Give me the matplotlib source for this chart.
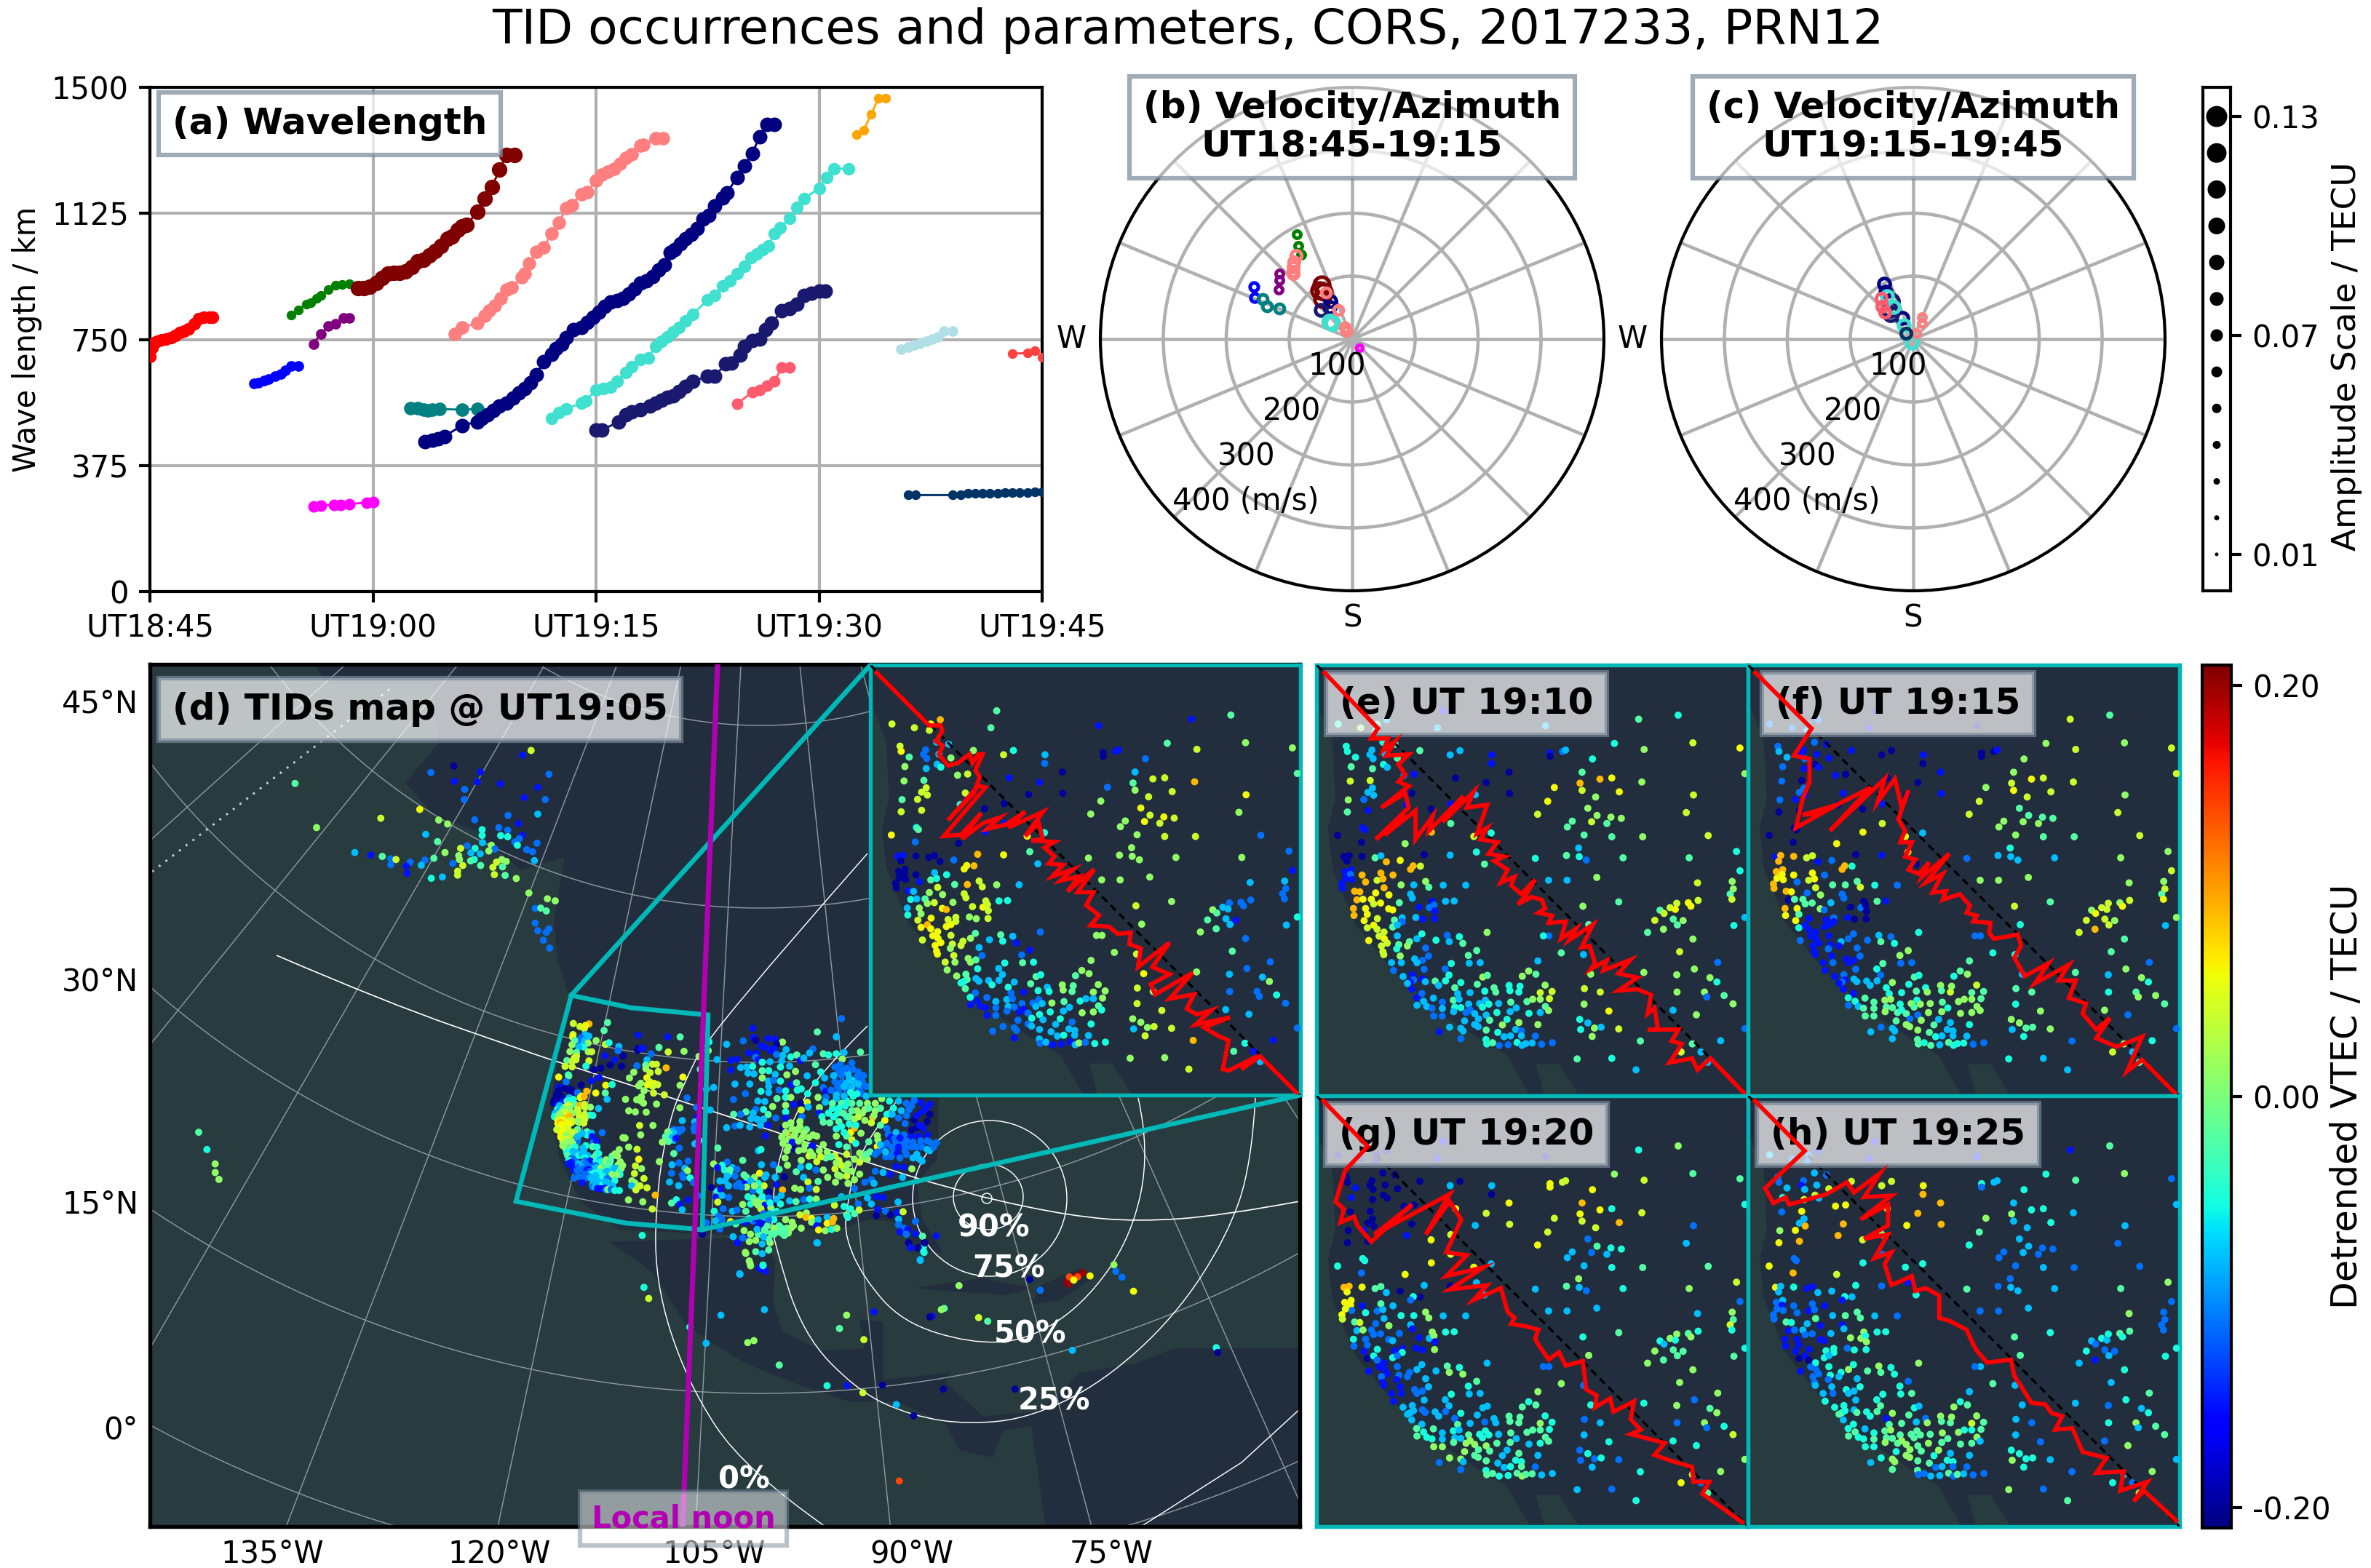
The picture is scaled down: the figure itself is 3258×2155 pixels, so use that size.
import numpy as np
import matplotlib
matplotlib.use("Agg")
import matplotlib.pyplot as plt
from matplotlib.patches import Polygon, Ellipse, PathPatch
from matplotlib.path import Path
from matplotlib.cm import ScalarMappable
from matplotlib.colors import Normalize

W, H = 3258, 2155
TEAL = '#00b8b8'
LAND = '#222e3d'
SEA = '#283b3f'
GRID = '#b0b0b0'

# ---------- (a) wavelength tracks: minutes after UT18:45, km, colour, marker px
wl_red = ([0,.15,.3,.5,.8,1.1,1.4,1.7,2,2.3,2.6,3,3.3,3.6,4,4.2],[700,725,740,745,748,752,756,762,770,775,782,796,812,816,816,816])
wl_blue = ([7,7.3,7.7,8,8.4,8.8,9.1,9.5,10],[618,622,628,632,640,648,658,672,672])
wl_green = ([9.5,10,10.5,10.8,11.2,11.5,12,12.5,12.9,13.4],[823,838,856,860,872,882,898,911,914,916])
wl_purple = ([11,11.5,12,12.5,13,13.4],[737,767,790,796,814,814])
wl_magenta = ([11,11.5,12.4,12.8,13.4,14.6,15],[254,256,258,258,260,265,266])
wl_maroon = ([14,14.4,14.8,15.2,15.6,16,16.4,16.8,17.2,17.6,18,18.4,18.8,19.2,19.6,20,20.3,20.7,21,21.3,22,22.5,23,23.5,24,24.5],
              [903,903,908,918,932,945,948,948,953,966,982,986,1000,1012,1028,1050,1056,1075,1087,1090,1129,1168,1203,1255,1299,1299])
wl_salmon = ([20.5,21,22,22.5,22.8,23.2,23.6,24,24.3,25,25.2,25.5,26,26.5,27,27.5,28,28.4,29,29.4,30,30.4,30.8,31.2,31.6,32,32.4,33,33.2,34,34.5],
              [767,786,798,820,835,850,872,898,905,935,945,977,1010,1024,1066,1098,1140,1150,1182,1188,1224,1240,1250,1258,1272,1289,1300,1326,1330,1348,1348])
wl_teal = ([17.5,18,18.4,18.7,19,19.5,21,22],[546,545,542,538,541,543,541,543])
wl_navy = ([18.5,19,19.4,19.8,21,22,22.3,22.7,23.1,23.5,24,24.4,24.8,25.2,25.6,26,26.5,27,27.3,27.7,28,28.5,29,29.4,29.8,30.2,30.6,31,31.4,31.8,32.2,32.6,33,33.4,33.8,34.2,34.6,35,35.3,35.7,36,36.4,36.8,37.2,37.6,38,38.5,38.8,39.5,40,40.5,41,41.5,42],
             [446,450,455,462,494,505,515,525,538,551,560,575,590,604,622,646,685,705,722,735,755,780,785,800,815,832,848,862,866,872,885,900,918,925,938,956,972,1008,1018,1035,1050,1062,1080,1108,1120,1147,1172,1187,1232,1266,1303,1353,1389,1389])
wl_turq = ([27,27.5,28,29,29.3,30,30.5,31,31.4,32,32.4,33,33.5,34,34.4,34.8,35.2,35.6,36,36.5,37.5,38,38.5,39,39.5,40,40.4,40.8,41.2,41.6,42,42.4,43,43.5,44,45,45.5,46,47],
             [515,532,544,560,568,599,604,609,625,651,668,690,695,730,745,758,772,786,805,825,867,882,909,925,945,968,993,1005,1018,1029,1066,1082,1111,1143,1169,1200,1232,1258,1258])
wl_midnight = ([30,30.4,31.5,32,32.4,33,33.6,34,34.4,34.8,35.2,35.6,36,36.5,37.5,38,38.7,39.1,39.7,40,40.5,41,41.4,41.8,42.5,43,43.5,44,44.5,45,45.4],
               [481,481,504,525,535,541,551,560,570,578,583,595,610,625,641,641,677,680,704,730,746,752,780,798,835,842,856,882,888,893,893])
wl_crimson = ([39.5,40.5,41,41.5,42,42.5,43],[559,593,600,612,625,667,667])
wl_orange = ([47.5,48,48.5,49,49.5],[1360,1373,1420,1468,1468])
wl_pale = ([50.5,51,51.4,51.8,52.2,52.6,53,53.4,54],[720,728,733,738,745,752,758,774,774])
wl_red2 = ([58,59,59.5,60],[708,709,716,698])
wl_dark = ([51,51.5,54,54.5,55,55.5,56,56.5,57,57.5,58,58.5,59,59.5,60],[287,287,287,287,292,292,293,293,293,294,294,295,295,296,296])
WL_SERIES = [(wl_red,'red',13),(wl_blue,'blue',11),(wl_green,'green',10),(wl_purple,'purple',11),(wl_magenta,'magenta',12),
             (wl_teal,'teal',14),(wl_maroon,'maroon',16),(wl_salmon,'#ff7f7f',14),(wl_navy,'navy',15),(wl_turq,'turquoise',13),
             (wl_midnight,'midnightblue',15),(wl_crimson,'#ff5a6e',12),(wl_orange,'orange',10),(wl_pale,'powderblue',11),
             (wl_red2,'#ff4040',10),(wl_dark,'#003366',10)]
WL_XT = [0,15,30,45,60]
WL_XL = ['UT18:45','UT19:00','UT19:15','UT19:30','UT19:45']
WL_YT = [0,375,750,1125,1500]

# ---------- (b),(c) azimuth deg, velocity m/s, colour, size
vel_b = [([332,330,329],[188,171,157],'green',7),([326,323,319,321,318],[160,153,143,148,140],'#ff7f7f',10),
         ([312,309,304],[156,149,141],'purple',7),([298,293],[177,168],'blue',8),([294,291,293],[156,145,125],'teal',9),
         ([331,326,323,329],[99,94,79,88],'maroon',15),([330,325],[70,62],'navy',11),([313],[68],'midnightblue',11),
         ([308,310],[46,40],'turquoise',13),([331,334,325,328],[85,51,16,22],'#ff7f7f',9),([140],[18],'magenta',6)]
vel_c = [([332,330,332],[99,87,38],'navy',11),([330,318,322],[69,54,60],'midnightblue',14),
         ([329,329,326,200],[80,60,27,6],'turquoise',11),([322,316,314],[82,72,62],'#ff5a6e',10),
         ([22,29,24],[37,29,10],'#ff7f7f',7),([307],[15],'#003366',10)]
RINGS = [100,200,300,400]
RLABELS = ['100','200','300','400 (m/s)']

# ---------- amplitude scale
AMP = [.01,.02,.03,.04,.05,.06,.07,.08,.09,.10,.11,.12,.13]
AMP_T = [.01,.07,.13]

CODE = dict(D=-20,B=-15,d=-11,s=-8,c=-5,t=-2,g=1,l=4,y=6,o=9,r=14,R=20)

# ---------- receivers shown in the inset and (e)-(h):  x, y, dTEC codes for inset,e,f,g,h
IPP = [(115,240,'lcdDs'),(193,253,'lgdDd'),(245,262,'lcsDd'),(283,225,'osdDB'),(250,240,'ycdDd'),(270,303,'scdDs'),(312,310,'scBDd'),(143,317,'lcdDd'),(147,335,'ycsDd'),(232,330,'dsBDd'),(225,346,'dsBDB'),(236,360,'dsdDs'),(175,355,'tcsBs'),(278,345,'ssBDs'),(320,358,'gtBDl'),(272,380,'scDDl'),(285,390,'csBDs'),(234,395,'stBDl'),(160,388,'gtdBc'),(343,418,'gdBDy'),(378,414,'lBDDy'),(398,332,'gtBDl'),(157,438,'gldDd'),(226,436,'tlDDy'),(234,462,'lsdDs'),(218,477,'lsdDs'),(238,487,'lsBDo'),(150,503,'tgdDg'),(204,502,'ldBBy'),(147,545,'ltDDy'),(218,540,'lBDDo'),(370,480,'lDBDo'),(352,520,'cBDBo'),(437,535,'DDDyl'),(505,517,'DBBlg'),(590,485,'DsDsy'),(522,427,'BDDyo'),(628,443,'BDDlo'),(707,407,'DDByo'),(709,481,'DDBlo'),(864,460,'dyglg'),(647,347,'sBBsy'),(646,377,'dBDDo'),(503,347,'lsDsl'),(537,332,'csDDl'),(459,253,'tsBBB'),(479,194,'tBDBB'),(833,246,'BsDDB'),(849,340,'DBDyc'),(849,352,'DDDyd'),(892,335,'BdDls'),(903,330,'BsBls'),(996,361,'dcgyc'),(960,407,'stgos'),(953,445,'tolyg'),(960,470,'glyls'),(1022,431,'loyyc'),(1063,427,'lylcc'),(1089,475,'lyloc'),(1167,441,'oglls'),(1156,223,'BtlcB'),(1072,307,'tcggc'),(1175,328,'lgllt'),(1293,209,'tctgt'),(1344,305,'glgtg'),(1507,323,'gyltd'),(1524,412,'tglcs'),(1346,486,'ylgds'),(841,508,'gyllt'),(806,553,'gllyc'),(1007,493,'lglls'),(980,532,'ygtds'),(1012,557,'lgtts'),(1060,563,'ygtcd'),(1096,567,'lgtcd'),(993,579,'ylgds'),(1046,585,'ltgsd'),(926,577,'gtgsd'),(909,597,'gtgsd'),(967,625,'gtgsd'),(1063,631,'lttcs'),(1170,631,'lgttd'),(1321,547,'gllsd'),(1397,627,'dlltd'),
(200,600,'cBDcd'),(207,607,'tBDcd'),(113,626,'yDDcy'),(196,650,'dDDdo'),(505,585,'Btlld'),(438,615,'Boyyc'),(347,655,'Dgyyl'),(585,630,'ylyyc'),(645,618,'ccssc'),(594,684,'tcosB'),(622,726,'stDsc'),(413,693,'oDDsc'),(503,695,'ysBDd'),
(135,700,'BDBoy'),(153,696,'BDoos'),(146,716,'DDoys'),(198,699,'DDoyc'),(243,704,'DtltB'),(263,697,'DsltB'),(282,718,'DoBss'),(330,713,'dydDs'),(375,732,'yoocc'),(366,744,'yoodB'),(400,733,'olcDs'),(160,745,'DBoys'),(138,752,'DBoyd'),(158,762,'DdyyB'),(162,780,'DBydd'),(198,764,'DoyBd'),(128,795,'DBoyd'),(140,775,'DByyd'),(130,810,'DBold'),(210,788,'Bodcd'),(263,757,'soytd'),(250,782,'tlldB'),(270,777,'coysd'),(305,764,'codsB'),(333,798,'tgtcs'),(377,798,'ostct'),(418,786,'lgtgt'),(429,806,'ltlgt'),(479,799,'gscss'),(557,799,'ssdsd'),
(172,820,'Boott'),(190,822,'soylc'),(245,826,'gydds'),(274,808,'lolst'),(291,833,'gyggB'),(366,830,'lsdsB'),(372,844,'lsdBs'),(180,850,'coDsB'),(201,848,'sytgd'),(230,848,'tytds'),(238,864,'gltdd'),(262,861,'lytdd'),(327,860,'gtsds'),(441,855,'lBDgg'),(487,855,'cstcc'),(517,854,'csBcc'),(431,877,'yddsg'),(447,868,'ldDgc'),(395,875,'lBDBg'),(450,889,'lBDBg'),
(168,880,'soocB'),(170,904,'coydB'),(210,880,'gyydB'),(216,900,'gytdB'),(290,881,'yygdB'),(304,885,'oydsB'),(384,911,'gsBBd'),(408,917,'gBDBc'),(449,916,'lBDgc'),(205,922,'lyyBB'),(251,915,'ylBcB'),(310,920,'ltBBc'),(337,912,'lsdBc'),(337,926,'ldBcc'),(216,947,'ylcDD'),(238,938,'oyBcB'),(250,952,'ylBdD'),(304,944,'ytBcc'),(320,937,'ysBds'),
(274,962,'ylBBc'),(257,976,'ylBBd'),(275,985,'yyBBd'),(320,975,'lsBdc'),(405,968,'tcdsc'),(388,985,'gsdsg'),(221,991,'lydBB'),(285,1000,'ylBBd'),(265,1010,'ylBdd'),(325,1005,'ltBdc'),(362,995,'ltsdc'),(355,1010,'lgBds'),(493,973,'tdstg'),(500,995,'cstgt'),(535,978,'scdcc'),(454,990,'scdst'),(547,1001,'Btcgc'),(631,963,'dgcsg'),
(270,1030,'ylBBd'),(273,1040,'ylBBs'),(318,1020,'gcdBd'),(330,1045,'lgBBs'),(380,1055,'gsBdc'),(407,1060,'tdBds'),(428,1045,'dddsc'),(418,1017,'sddss'),(566,1043,'dtgcc'),(595,1026,'Btgtd'),(569,1070,'tsdsc'),(607,1068,'csdst'),(507,1071,'cctcc'),(300,1068,'lsBBs'),(334,1068,'gsdBd'),(388,1068,'gsBds'),(307,1095,'gdBBc'),(413,1091,'cddss'),(486,1090,'sdcsc'),(499,1111,'scdst'),
(340,1116,'gsBsc'),(372,1110,'tBdsc'),(376,1128,'tdBsc'),(365,1135,'cBdsc'),(355,1140,'csBst'),(407,1125,'sBsds'),(417,1134,'sssdt'),(451,1132,'stssc'),(463,1147,'csssc'),(487,1131,'scsdt'),(540,1137,'scgcg'),(519,1155,'ctcdB'),(597,1143,'ttcst'),(616,1118,'tgtsc'),(632,1112,'ctcss'),(753,1115,'tgctg'),(775,1097,'ggtcc'),(800,1108,'gtgtt'),(370,1160,'tBBss'),(405,1175,'ddBsc'),(387,1190,'cBctc'),(445,1191,'dstts'),(529,1176,'dsctt'),(572,1172,'Bscst'),(623,1167,'cctds'),(655,1155,'stcsd'),(661,1170,'ctgsg'),(707,1147,'gcgtg'),(710,1165,'gcttt'),(741,1170,'tcltt'),(745,1150,'tcgtg'),(832,1146,'gglcg'),(815,1172,'gltgl'),(856,1168,'gltct'),
(388,1216,'Bsdtt'),(411,1202,'Bscct'),(422,1220,'Bsscc'),(440,1226,'Bdtcc'),(476,1205,'sdtsc'),(476,1227,'dstst'),(514,1198,'stgct'),(534,1195,'dsgsg'),(519,1222,'sctst'),(540,1224,'dctst'),(567,1212,'dsctt'),(625,1198,'dscct'),(605,1210,'dsgct'),(637,1212,'scgct'),(615,1222,'sctct'),(671,1210,'gsgst'),(713,1205,'ttttg'),(769,1203,'ctgtg'),(789,1195,'sggtc'),(815,1195,'sggtc'),(847,1193,'gltct'),(833,1220,'ttgtg'),(844,1234,'cggts'),(732,1225,'sscst'),(711,1238,'ssgtt'),
(446,1253,'Bdtgc'),(476,1253,'ddtgc'),(515,1238,'dsgtg'),(558,1241,'Bdtgt'),(572,1232,'Bdcgg'),(588,1245,'dstgg'),(628,1250,'csdgt'),(601,1263,'csdtg'),(665,1241,'ccgtg'),(776,1244,'gcgst'),(815,1241,'gsgct'),(553,1270,'dstgc'),(588,1283,'dsgtg'),(600,1290,'ssgtg'),(640,1268,'stgtt'),(684,1284,'sgtsc'),(700,1265,'ccssg'),(741,1276,'dgsts'),(807,1283,'cgcss'),
(465,1308,'dBsds'),(501,1292,'dsdgc'),(540,1296,'dssgg'),(548,1305,'dsssg'),(540,1332,'Bdsdt'),(628,1302,'stgtt'),(668,1310,'sctst'),(690,1325,'sscsd'),(712,1322,'csscs'),(730,1300,'ssscc'),(750,1305,'sdscc'),(750,1322,'ssstd'),(798,1323,'sdsdd'),(627,1335,'sctct'),(630,1350,'dcttd'),(650,1346,'stctd'),(673,1355,'Bdtcs'),(704,1353,'Bdscs'),(735,1345,'Bcttt'),(752,1355,'sscgd'),(765,1349,'gsctt'),(787,1347,'dscts'),(820,1351,'cddsd'),(857,1346,'cddsd'),
(845,975,'gddds'),(826,975,'gcddd'),(888,1034,'gtcgt'),(807,1062,'gstgs'),(963,872,'lglct'),(983,936,'gtcgt'),(1087,857,'gtttc'),(1011,772,'gggss'),(908,782,'gsgsd'),(844,782,'gsgsd'),(798,706,'gcdst'),(906,696,'gtstd'),(948,670,'gscgd'),(950,700,'gcsss'),(975,712,'gdsds'),(1102,704,'gtscs'),(1331,704,'gtggt'),(1495,682,'dcglg'),(1507,749,'Bcldd'),(1360,791,'slgsg'),(1480,786,'sgggd'),(1484,812,'dgltd'),(1473,830,'dttld'),(1479,848,'dlycd'),(1288,862,'dllgc'),(1328,860,'dygtt'),(1362,852,'dllct'),(1337,872,'dyygc'),(1265,877,'sllgc'),(1283,883,'sylcs'),(1230,886,'gtgcs'),(1244,897,'tlysd'),(1212,921,'tllgc'),(1276,917,'stltd'),(1290,937,'stlts'),(1310,922,'Bggtd'),(1242,952,'tgotB'),(1187,963,'gtlgs'),(1486,939,'scstc'),(1524,911,'csgcc'),(1344,986,'dgtgc'),(1298,1030,'tltgs'),(1430,1067,'dddgt'),(1349,1090,'dggdc'),(1288,1110,'sgsgd'),(1174,1102,'ggtcs'),(1403,1120,'sggts'),(1427,1135,'gccgc'),(1289,1170,'dgcdc'),(1384,1170,'dgtgg'),(1392,1187,'ddgds'),(1452,1182,'ctgct'),(1483,1211,'dgtlt'),(1275,1233,'ssgcd'),(1356,1249,'sgdcg'),(1053,1236,'lygcd'),(968,1158,'lltds'),(967,1212,'lgcss'),(1023,1170,'gltsd'),(990,1108,'ygscs'),(965,1040,'lscds'),(1524,1297,'dddgs'),(952,1265,'gcgdc'),(980,1277,'gsgcc'),(1003,1295,'ggtdc'),(1026,1292,'lstcc'),(955,1300,'scsdg'),(1087,1298,'llgds'),(995,1324,'lgcsc'),(1162,1340,'otdcd'),(1440,1339,'Bscgg'),(1342,1350,'ctggs'),(1372,1378,'Bssdd'),(1303,1378,'tllyc'),(1395,1414,'ssttl'),(943,1402,'gtcsg'),(1063,1400,'gcsdd'),(1147,1440,'lssct')]

# ---------- remaining receivers on map (d)
D_EAST = [(1110,120,'d'),(768,160,'B'),(1017,175,'t'),(1090,195,'s'),(772,198,'B'),(780,210,'D'),(827,202,'B'),(853,204,'B'),(883,217,'g'),(860,225,'D'),(817,238,'B'),(800,232,'B'),(838,252,'B'),(732,212,'d'),(668,226,'s'),(600,216,'c'),(597,252,'g'),(631,289,'s'),(684,292,'B'),(708,288,'B'),(684,332,'B'),(753,262,'B'),(782,262,'B'),(780,280,'d'),(790,290,'B'),(897,248,'s'),(850,243,'B'),(860,268,'d'),(884,272,'s'),(915,278,'c'),(938,270,'t'),(952,292,'B'),(965,283,'s'),(1000,245,'d'),(987,262,'s'),(1040,265,'t'),(1060,270,'c'),(1090,265,'c'),(1120,260,'s'),(1183,258,'t'),(1113,287,'g'),
(805,300,'c'),(835,298,'s'),(880,295,'s'),(875,320,'c'),(910,316,'s'),(933,338,'g'),(722,322,'s'),(745,320,'s'),(768,317,'c'),(750,345,'s'),(773,348,'s'),(805,335,'t'),(830,335,'c'),(855,350,'s'),(805,365,'g'),(828,378,'s'),(848,375,'d'),(875,378,'c'),(900,352,'g'),(978,356,'s'),(1010,310,'t'),(1030,340,'c'),(1045,365,'s'),(1010,385,'c'),(1115,330,'d'),(1150,303,'d'),(1100,340,'d'),(1135,345,'s'),(1170,360,'d'),(1190,380,'d'),
(700,390,'s'),(757,390,'s'),(800,420,'c'),(830,400,'s'),(830,425,'s'),(870,415,'d'),(895,418,'c'),(917,392,'B'),(937,385,'t'),(940,415,'c'),(980,430,'c'),(955,410,'c'),(1040,405,'d'),(1050,420,'B'),(1085,380,'d'),(1110,385,'d'),(1150,375,'c'),(1130,410,'d'),(1180,410,'d'),(1100,420,'d'),(1155,440,'c'),(1190,430,'d'),(618,404,'s'),(590,412,'s'),(740,430,'d'),(694,454,'d'),
(862,450,'t'),(895,445,'c'),(915,445,'g'),(925,475,'B'),(953,470,'D'),(978,465,'l'),(1020,445,'g'),(1050,445,'d'),(1090,450,'s'),(1130,460,'c'),(1180,470,'t'),(1210,470,'g'),(1240,470,'g'),(1265,450,'g'),(1295,460,'c'),(1330,460,'s'),(1360,470,'d'),(1390,457,'d'),(1415,467,'B'),(1450,473,'B'),(1048,465,'s'),(788,460,'s'),(815,462,'s'),(780,495,'d'),(810,495,'c'),(845,483,'g'),(895,478,'g'),(895,505,'c'),(955,497,'l'),(982,485,'s'),(1025,487,'g'),(1075,490,'c'),(1110,470,'t'),(1150,500,'t'),(1200,495,'g'),(1240,500,'g'),(1310,490,'c'),(1340,500,'s'),(1370,495,'d'),(1420,505,'B'),(1450,515,'D'),
(605,497,'s'),(742,505,'t'),(722,515,'d'),(695,515,'t'),(770,510,'s'),(828,516,'t'),(857,530,'d'),(895,530,'B'),(762,533,'s'),(785,535,'s'),(810,535,'s'),(958,525,'d'),(1025,510,'B'),(1035,525,'c'),(1095,510,'c'),(1130,525,'c'),(1175,525,'l'),(1230,528,'o'),(1277,540,'y'),(1330,530,'d'),(1355,553,'d'),(1390,538,'D'),(1440,545,'D'),(1040,547,'t'),(1065,550,'t'),(1100,545,'t'),(1140,555,'c'),
(668,570,'s'),(700,563,'d'),(720,560,'s'),(757,567,'s'),(798,560,'s'),(828,560,'B'),(885,572,'D'),(900,592,'o'),(915,550,'g'),(950,545,'g'),(940,580,'g'),(975,578,'t'),(1090,575,'c'),(1145,590,'y'),(1160,572,'o'),(1185,593,'g'),(1248,603,'g'),(1285,573,'d'),(1320,590,'s'),(1350,600,'d'),(1400,570,'D'),(1425,572,'B'),(1290,598,'d'),(1380,605,'B'),(1408,605,'B'),(1440,600,'B'),
(816,604,'B'),(880,610,'g'),(905,620,'g'),(925,605,'g'),(960,610,'g'),(1000,600,'g'),(1015,605,'g'),(1090,605,'g'),(1130,605,'t'),(1150,620,'l'),(1215,628,'t'),(1100,640,'c'),(1130,650,'t'),(1165,635,'c'),(1250,620,'g'),(1248,648,'y'),(1320,630,'d'),(1345,640,'d'),(1370,625,'B'),(1400,650,'d'),(1450,630,'d'),(1475,632,'d'),
(885,635,'g'),(920,630,'B'),(928,658,'D'),(970,640,'g'),(998,645,'B'),(1040,640,'g'),(900,665,'g'),(945,665,'g'),(990,670,'g'),(1025,665,'g'),(1055,670,'g'),(1085,685,'l'),(1130,680,'l'),(1180,675,'g'),(1220,670,'t'),(1270,660,'d'),(1290,640,'B'),(1310,675,'d'),(1355,665,'d'),(1400,680,'s'),(1450,665,'s'),
(634,654,'t'),(790,665,'s'),(800,660,'c'),(893,695,'g'),(955,705,'g'),(985,687,'l'),(1015,710,'l'),(1050,695,'t'),(1100,705,'l'),(1160,700,'g'),(1180,712,'l'),(1210,700,'g'),(1240,680,'d'),(1280,690,'d'),(1325,675,'B'),(1360,680,'d'),(1420,708,'s'),
(730,705,'t'),(618,720,'g'),(670,712,'d'),(802,723,'s'),(848,723,'d'),(650,725,'c'),(690,735,'s'),(708,742,'d'),(633,735,'B'),(870,742,'t'),(902,725,'g'),(936,752,'t'),(953,733,'s'),(985,730,'c'),(1012,745,'d'),(1040,745,'g'),(1085,740,'l'),(1120,740,'g'),(1240,750,'d'),(1270,755,'s'),(1320,730,'B'),(1350,733,'B'),(1297,763,'B'),(1381,740,'g'),(1345,775,'s'),
(642,790,'s'),(662,790,'s'),(680,760,'c'),(735,765,'t'),(775,775,'g'),(795,758,'y'),(820,765,'s'),(855,775,'s'),(890,773,'D'),(964,775,'s'),(1057,775,'g'),(1095,765,'g'),(1130,770,'l'),(1180,762,'g'),(1225,785,'d'),(1235,800,'s'),
(610,817,'D'),(632,833,'c'),(645,825,'B'),(675,810,'s'),(705,810,'d'),(740,795,'B'),(745,815,'g'),(770,830,'d'),(812,810,'l'),(795,830,'c'),(830,835,'D'),(860,805,'B'),(883,827,'o'),(930,820,'g'),(953,825,'g'),(981,794,'l'),(987,820,'d'),(1020,792,'t'),(1013,825,'l'),(1087,795,'g'),(1135,800,'g'),(1160,822,'d'),(1200,795,'d'),
(628,857,'B'),(676,858,'d'),(650,850,'s'),(750,855,'c'),(770,860,'t'),(795,870,'g'),(820,870,'g'),(845,880,'D'),(816,890,'B'),(878,850,'s'),(910,872,'s'),(965,867,'d'),(988,865,'c'),(1013,865,'g'),(935,875,'t'),(1110,855,'s'),(1210,860,'s'),(1245,855,'B'),(1270,858,'B'),(1328,877,'s'),(1175,885,'d'),(1225,885,'s'),
(634,877,'l'),(730,887,'g'),(760,885,'c'),(875,885,'c'),(800,905,'l'),(838,900,'g'),(690,915,'s'),(708,910,'d'),(742,915,'t'),(620,915,'c'),(655,905,'d'),(1083,890,'l'),(1120,895,'c'),(1145,905,'c'),(1178,910,'l'),(1250,907,'B'),(1280,915,'d'),(1298,930,'D'),(1325,920,'B'),(1347,917,'l'),(1244,933,'D'),(1330,948,'s'),
(638,935,'d'),(650,950,'d'),(625,955,'s'),(590,963,'d'),(683,958,'y'),(703,967,'t'),(770,955,'d'),(810,940,'s'),(850,950,'c'),(895,950,'g'),(920,960,'g'),(950,930,'l'),(975,922,'g'),(973,940,'o'),(995,945,'y'),(995,960,'g'),(1020,950,'s'),(1055,940,'s'),(1080,945,'o'),(1055,965,'y'),(1130,930,'t'),(1160,925,'t'),(1135,940,'c'),(1395,957,'d'),
(642,988,'d'),(790,975,'B'),(825,975,'t'),(870,975,'t'),(900,985,'t'),(925,975,'g'),(955,985,'g'),(1015,975,'B'),(1022,992,'y'),(1048,995,'g'),(1072,990,'c'),(1092,985,'g'),(1075,960,'o'),(1330,970,'d'),(1350,985,'d'),(1365,990,'B'),
(575,1010,'D'),(343,1015,'c'),(693,1020,'s'),(735,995,'g'),(760,1010,'g'),(790,1010,'t'),(815,1000,'t'),(840,1005,'t'),(880,1005,'t'),(905,1005,'g'),(1015,1045,'s'),(1335,1000,'B'),(1360,1010,'d'),(1395,1008,'B'),(1422,1018,'t'),(1475,1017,'B'),
(710,1045,'B'),(735,1025,'B'),(755,1040,'g'),(780,1035,'g'),(805,1050,'s'),(835,1045,'g'),(730,1025,'d'),(1368,1045,'D'),(1430,1045,'D'),(1375,1065,'B'),(1405,1067,'D'),(1425,1065,'c'),(1428,1085,'c'),(1413,1115,'s'),
(740,1085,'g'),(780,1082,'t'),(805,1090,'s'),(830,1075,'t'),(755,1120,'g'),(760,1140,'g'),(808,1137,'t'),(795,1150,'B'),(818,1162,'B'),(718,1173,'s')]
# denser knots of the eastern network
D_EAST2 = [(1085,320,'d'),(1105,310,'d'),(1130,325,'d'),(1155,330,'d'),(1175,340,'d'),(1080,355,'s'),(1110,355,'d'),(1140,365,'s'),(1160,385,'s'),(1195,355,'d'),(1205,400,'d'),(1095,400,'d'),(1120,400,'s'),(1150,405,'s'),(1175,390,'s'),(1130,385,'s'),(1070,415,'d'),(1090,435,'s'),(1120,440,'s'),(1145,425,'c'),(1170,430,'c'),(1205,440,'s'),
(1075,470,'t'),(1100,490,'c'),(1125,480,'c'),(1150,470,'t'),(1170,500,'g'),(1190,510,'g'),(1215,490,'t'),(1235,520,'g'),(1260,490,'t'),(1285,515,'c'),(1305,515,'s'),(1060,510,'c'),(1080,525,'c'),(1115,510,'t'),(1140,525,'t'),(1160,535,'g'),(1200,540,'g'),(1225,550,'l'),(1260,560,'t'),(1110,565,'c'),(1120,590,'c'),(1165,560,'c'),
(1300,610,'B'),(1315,615,'d'),(1335,612,'B'),(1360,625,'d'),(1385,630,'d'),(1415,625,'d'),(1440,625,'d'),(1465,650,'d'),(1285,635,'d'),(1305,650,'d'),(1330,650,'B'),(1355,645,'d'),(1380,650,'d'),(1420,650,'d'),(1440,660,'s'),(1260,640,'s'),(1280,670,'s'),(1300,690,'d'),(1250,670,'d'),(1335,695,'d'),(1385,695,'s'),(1410,700,'s'),(1380,580,'D'),(1410,560,'B'),(1360,520,'d'),(1400,520,'B'),(1435,490,'B'),(1380,480,'d'),
(895,560,'g'),(920,575,'g'),(950,565,'g'),(895,590,'g'),(930,600,'g'),(965,590,'g'),(985,610,'g'),(945,625,'g'),(905,650,'g'),(965,660,'g'),(1000,685,'g'),(1030,690,'l'),(1070,690,'t'),(1090,715,'g'),(1110,725,'l'),(1135,720,'g'),(1130,745,'g'),(1150,750,'g'),(1160,785,'g'),(1105,770,'g'),(1190,690,'g'),(1205,680,'t'),
(660,745,'c'),(680,745,'t'),(670,770,'s'),(700,770,'d'),(715,800,'d'),(725,815,'d'),(745,775,'t'),(760,790,'s'),(790,800,'c'),(775,810,'g'),(815,775,'s'),(805,855,'c'),(780,880,'g'),(830,860,'d'),(860,865,'s'),(790,890,'g'),(835,880,'c'),(810,925,'d'),(835,925,'s'),(860,915,'c'),(780,945,'B'),(800,965,'B'),(785,990,'s'),(815,990,'t'),(850,985,'g'),(880,985,'t'),(870,1000,'t'),(895,1000,'t'),(850,1010,'t'),(890,1015,'t'),(915,985,'g'),(830,1030,'t'),(810,1020,'s'),(830,950,'d'),(755,945,'c'),(740,960,'B')]
D_NORTH = [(393,467,'t'),(451,637,'g'),(624,601,'l'),(729,567,'y'),(1029,340,'l'),(1006,358,'B'),(821,400,'D'),(892,423,'B'),(759,425,'d'),(1077,432,'d'),(822,459,'B'),(884,461,'B'),(946,469,'B'),(1047,482,'B'),(850,490,'d'),(849,529,'d'),(1010,522,'B'),(1067,529,'d'),(967,590,'d'),(1047,585,'s'),(877,607,'d'),(780,608,'g'),(804,623,'g'),(942,637,'d'),(995,622,'B'),(966,647,'d'),(897,645,'c'),(745,663,'s'),(897,667,'c'),(947,668,'c'),(966,672,'c'),(1005,667,'B'),(777,691,'t'),(898,695,'s'),(985,693,'d'),(997,680,'d'),(992,705,'c'),(1045,697,'d'),(857,707,'d'),(839,717,'l'),(878,717,'c'),(922,705,'g'),(931,720,'d'),(915,727,'g'),(867,734,'s'),(892,738,'s'),(1017,722,'d'),(1033,730,'d'),(554,733,'s'),(597,743,'B'),(628,748,'t'),(651,757,'d'),(665,760,'l'),(703,770,'d'),(743,762,'d'),(767,755,'t'),(797,733,'g'),(834,745,'g'),(836,760,'g'),(876,760,'c'),(866,765,'t'),(950,760,'g'),(962,767,'g'),(936,770,'l'),(1038,764,'s'),(651,780,'d'),(693,785,'B'),(733,782,'s'),(818,775,'d'),(845,783,'l'),(893,783,'t'),(926,790,'l'),(952,788,'t'),(695,813,'B'),(790,827,'s'),(760,832,'c'),(831,805,'l'),(831,820,'l'),(930,818,'l'),(959,821,'t'),(989,833,'g'),(1023,889,'g'),(1073,911,'g'),(1094,919,'g'),(1040,948,'d'),(1055,947,'t'),(1070,958,'t'),(1040,1005,'d'),(1047,1034,'d'),(1077,1027,'d'),(1070,1040,'d'),(1062,1071,'d'),(1079,1101,'d')]
D_SOUTH = [(553,25,'s'),(744,25,'D'),(748,45,'B'),(764,45,'D'),(777,25,'D'),(775,60,'c'),(768,97,'s'),(190,208,'c'),(200,254,'l'),(391,154,'s'),(443,140,'B'),(432,130,'B'),(403,68,'g'),(412,110,'g'),(439,118,'c'),(849,201,'g'),(1173,115,'g'),(1177,142,'d'),(1190,166,'d'),(1123,161,'y'),(1214,224,'y'),(1019,220,'d'),(997,175,'D'),(818,295,'t'),(812,300,'g'),(671,309,'B'),(793,327,'B'),(788,330,'D'),(614,323,'g'),(599,378,'t'),(650,424,'l'),(442,300,'s'),(351,323,'s'),(286,372,'c'),(320,439,'s'),(407,436,'g'),(420,428,'g'),(890,333,'l'),(909,348,'t'),(1086,468,'s'),(473,529,'t'),(573,614,'c'),(615,614,'B'),(648,643,'l'),(689,612,'D'),(816,628,'D'),(966,628,'D'),(718,692,'s'),(754,738,'D'),(1387,457,'c'),(1390,477,'D'),(724,1007,'r'),(1075,185,'R'),(1078,195,'R'),(1095,160,'R'),(1108,148,'R'),(1080,165,'r'),(1097,165,'r'),(1089,178,'y')]
D_HAWAII = [(90,830,'t'),(101,860,'c'),(112,885,'g'),(112,900,'g'),(117,912,'g')]

# ---------- red TEC profile per panel, in the panel's own reading frame
RED_D = [(62,62),(245,245),(285,245),(290,265),(268,300),(292,315),(278,345),(310,385),(345,375),(385,345),(395,375),(415,345),(430,345),(405,400),(420,425),(400,480),(310,575),(415,455),(440,460),(295,630),(355,625),(425,550),(358,640),(430,585),(490,565),(445,605),(510,590),(578,545),(520,600),(640,545),(578,630),(625,585),(640,640),(600,645),(680,650),(645,670),(680,700),(660,725),(710,730),(672,770),(745,745),(700,785),(765,770),(725,822),(818,745),(760,825),(815,825),(790,870),(835,905),(805,940),(870,945),(900,970),(945,965),(940,1005),(980,1020),(970,1085),(1080,1000),(1020,1085),(1080,1110),(1015,1145),(1030,1180),(1160,1105),(1080,1195),(1165,1180),(1140,1230),(1175,1250),(1225,1235),(1170,1285),(1290,1260),(1200,1295),(1250,1325),(1285,1340),(1265,1440),(1285,1445),(1385,1395),(1330,1440),(1395,1395),(1520,1520)]
RED_E = [(32,62),(110,255),(100,290),(125,290),(118,330),(135,300),(122,350),(155,345),(140,380),(150,415),(140,440),(155,455),(115,530),(150,480),(155,530),(107,640),(150,555),(120,625),(165,540),(165,640),(190,560),(185,610),(235,490),(205,580),(250,475),(240,530),(270,520),(255,620),(270,600),(260,640),(285,650),(272,690),(295,700),(280,715),(300,745),(290,790),(310,770),(305,800),(320,830),(340,780),(325,840),(315,865),(335,840),(350,850),(355,880),(345,895),(365,905),(360,930),(385,925),(378,985),(400,950),(390,990),(425,935),(408,1015),(420,1010),(428,1070),(422,1090),(445,1060),(440,1095),(480,1058),(462,1105),(480,1115),(490,1120),(462,1165),(490,1160),(510,1180),(505,1245),(515,1225),(520,1300),(505,1300),(550,1300),(540,1340),(555,1350),(537,1415),(570,1400),(578,1440),(597,1400),(648,1525)]
RED_F = [(666,62),(748,255),(722,350),(745,360),(745,440),(735,500),(725,600),(785,520),(735,555),(760,550),(835,460),(775,610),(855,430),(845,510),(870,430),(880,530),(890,470),(875,570),(885,610),(878,650),(895,650),(885,700),(900,710),(890,745),(905,760),(920,720),(910,770),(950,690),(915,790),(940,760),(925,825),(945,820),(940,850),(965,830),(980,870),(975,895),(990,905),(985,925),(1010,930),(1008,965),(1015,985),(1040,975),(1050,970),(1055,1010),(1045,1050),(1060,1115),(1095,1070),(1075,1140),(1125,1075),(1110,1130),(1135,1130),(1125,1190),(1150,1210),(1145,1245),(1165,1300),(1185,1260),(1165,1330),(1195,1360),(1232,1325),(1210,1445),(1232,1405),(1280,1520)]
RED_G = [(30,62),(95,215),(62,295),(48,400),(60,425),(55,470),(75,450),(80,480),(100,535),(160,410),(105,510),(215,375),(180,510),(215,400),(232,460),(210,570),(240,580),(210,650),(265,620),(215,695),(270,680),(250,730),(290,690),(300,770),(310,790),(305,810),(330,820),(345,830),(340,860),(345,880),(360,930),(375,905),(385,950),(410,935),(415,1030),(430,1050),(428,1090),(450,1060),(455,1105),(485,1070),(480,1130),(495,1165),(480,1180),(530,1210),(515,1250),(540,1270),(570,1290),(572,1340),(595,1340),(585,1380),(643,1475)]
RED_H = [(665,62),(738,230),(680,355),(692,405),(710,385),(715,410),(770,375),(800,335),(810,370),(848,305),(825,385),(865,380),(820,460),(860,410),(860,480),(825,525),(860,510),(840,590),(865,570),(855,610),(865,680),(895,650),(900,700),(915,690),(935,715),(935,790),(950,800),(975,830),(985,880),(990,900),(1005,940),(1040,930),(1045,985),(1055,1020),(1070,1075),(1090,1080),(1100,1110),(1115,1120),(1105,1165),(1130,1160),(1145,1240),(1180,1260),(1165,1310),(1205,1305),(1200,1370),(1240,1340),(1220,1405),(1235,1370),(1282,1470)]

# ---------- map geography (reading frames converted below)
PARALLELS = [597,848,1060,1272,1515,1770,2060]
MERIDIANS = [-180,-165,-150,-135,-120,-105,-90,-75,-60,-45,-30,-15]
COAST_Z9 = [(1568,460),(1300,460),(1220,520),(1100,560),(1020,720),(900,740),(820,600),(830,560),(690,590),(690,350),(640,340),(650,460),(560,470),(480,390),(460,270),(465,100),(440,0)]
COAST_Z9B = [(120,20),(210,150),(280,370),(400,520),(500,600),(620,680),(720,680),(820,770),(850,880),(920,910),(940,800),(1000,780),(1030,1190),(1568,1190)]
EAST_COAST = [(1440,1500),(1290,1500),(1288,1593),(1260,1625),(1267,1676),(1296,1722),(1253,1720),(1238,1680),(1195,1676),(1150,1690),(1115,1690),(1050,1700)]
WEST_COAST = [(850,1690),(797,1650),(768,1590),(756,1520),(770,1440),(781,1367),(766,1320),(761,1267),(776,1178),(715,1196),(654,1142),(598,1121),(557,1076),(603,1021),(593,940),(450,940),(432,915)]
CUBA_Z9 = [(760,210),(900,170),(1000,210),(950,240),(800,220)]
HISP_Z9 = [(1020,200),(1100,130),(1130,170),(1060,260),(1000,280)]
OCEAN_PANEL = [(40,160),(95,300),(105,500),(80,600),(95,740),(170,930),(300,1090),(450,1230),(600,1330),(700,1390),(780,1530),(40,1530)]
OCEAN_PANEL2 = [(800,1420),(880,1420),(950,1530),(830,1530)]
WEDGE_TOP = [(785,1368),(867,1385),(973,1395)]
WEDGE_BOTTOM = [(709,1651),(860,1681),(965,1690)]
WEDGE_SIDES = [[(785,1368),(709,1651)],[(973,1395),(965,1690)],[(785,1368),(1196,914)],[(965,1690),(1787,1505)]]
TERM_0 = [(1192,1173),(974,1420),(938,1493),(921,1536),(903,1626),(899,1760),(944,1900),(1023,2020),(1134,2098)]
TERM_0B = [(1568,2098),(1706,2010),(1790,1933)]
TERM_25 = [(1192,1410),(1124,1477),(1092,1533),(1067,1600),(1060,1676),(1062,1700),(1102,1833),(1180,1913),(1253,1946),(1332,1958),(1417,1948),(1515,1900),(1614,1810),(1686,1700),(1720,1600),(1725,1509)]
TERM_50 = [(1238,1506),(1181,1576),(1163,1660),(1161,1700),(1187,1757),(1240,1817),(1332,1846),(1410,1843),(1489,1793),(1555,1700),(1580,1580),(1564,1509)]
TERM_RINGS = [(1360,1647,212,214),(1358,1645,96,90),(1356,1647,14,14)]
PATH = [(380,1313),(531,1378),(715,1442),(764,1459),(974,1525),(1253,1618),(1320,1636),(1356,1647),(1471,1671),(1564,1679),(1678,1671),(1786,1651)]
TRACK = [(209,1198),(542,942)]
NOON = [(986,913),(938,2098)]
PCT = [('90%',1366,1687),('75%',1386,1744),('50%',1416,1834),('25%',1448,1926),('0%',1022,2034)]
LAT_LABELS = [('45°N',968),('30°N',1350),('15°N',1656),('0°',1966)]
LON_LABELS = [('135°W',374),('120°W',686),('105°W',981),('90°W',1253),('75°W',1527)]
CB_TICKS = [-.2,0,.2]

# ---------- helpers
fig = plt.figure(figsize=(W/300,H/300),dpi=300,facecolor='white')
def axpx(l,t,r,b,**k):
    return fig.add_axes([l/W,1-b/H,(r-l)/W,(b-t)/H],**k)
def ftext(x,y,s,**k):
    k.setdefault('ha','center'); k.setdefault('va','center')
    return fig.text(x/W,1-y/H,s,**k)
BOX = dict(facecolor='white',alpha=.7,edgecolor='lightslategray',linewidth=1.5,boxstyle='square,pad=0.38')
def decode(s): return np.array([CODE[c] for c in s])/100
def conv(pts,x0,sx,y0,sy):
    a = np.array([p[:2] for p in pts],float)
    return x0+a[:,0]*sx, y0+a[:,1]*sy
def smooth(axis,pts,**k):
    a = np.array(pts,float)
    mids = (a[1:-2]+a[2:-1])/2
    v = [a[0]]; c = [Path.MOVETO]
    for i in range(1,len(a)-2):
        v += [a[i],mids[i-1]]; c += [Path.CURVE3,Path.CURVE3]
    v += [a[-2],a[-1]]; c += [Path.CURVE3,Path.CURVE3]
    axis.add_patch(PathPatch(Path(v,c),fc='none',**k))
jet = plt.get_cmap('jet'); norm = Normalize(-.21,.21)

fig.text(1632/W,1-42/H,'TID occurrences and parameters, CORS, 2017233, PRN12',ha='center',va='center',fontsize=15.9)

# (a)
ax = axpx(206,120,1432,813)
for (t,y),c,px in WL_SERIES:
    ax.plot(t,y,'-',color=c,lw=.7,marker='o',ms=px*.32,mew=0,zorder=3)
ax.set_xlim(0,60); ax.set_ylim(0,1500)
ax.set_xticks(WL_XT); ax.set_xticklabels(WL_XL,fontsize=10)
ax.set_yticks(WL_YT); ax.tick_params(labelsize=10,width=1,length=3.5)
ax.grid(color=GRID,lw=1); ax.set_axisbelow(True)
ax.set_ylabel('Wave length / km',fontsize=10,labelpad=3)
for s in ax.spines.values(): s.set_linewidth(1)
ax.text(12.1,1392,'(a) Wavelength',fontsize=12,fontweight='bold',ha='center',va='center',bbox=BOX,zorder=6)

# (b),(c)
for cx,series,title in [(1858,vel_b,'(b) Velocity/Azimuth\nUT18:45-19:15'),(2629,vel_c,'(c) Velocity/Azimuth\nUT19:15-19:45')]:
    p = axpx(cx-346,120,cx+346,812,projection='polar')
    p.set_theta_zero_location('N'); p.set_theta_direction(-1)
    p.set_ylim(0,400); p.set_yticks(RINGS); p.set_yticklabels([])
    p.set_xticks(np.deg2rad(np.arange(0,360,22.5))); p.set_xticklabels([])
    p.grid(color=GRID,lw=1.1); p.spines['polar'].set_linewidth(1)
    for az,v,c,px in series:
        p.plot(np.deg2rad(az),v,ls='none',marker='o',mfc='none',mec=c,mew=1.2,ms=px*.34)
    for lab,dx,dy in zip(RLABELS,[-21,-83,-145,-146],[38,99,161,223]):
        ftext(cx+dx,466+dy,lab,fontsize=10)
    ftext(cx-386,466,'W',fontsize=10); ftext(cx,850,'S',fontsize=10)
    ftext(cx,175,title,fontsize=12,fontweight='bold',bbox=BOX,linespacing=1.15,zorder=10)

# amplitude scale
sc = axpx(3027,120,3065,812)
sc.scatter([.5]*len(AMP),AMP,s=[((5+(a-.01)/.12*24)*.24)**2 for a in AMP],color='k',linewidths=0)
sc.set_xlim(0,1); sc.set_ylim(0,.138); sc.set_xticks([])
sc.yaxis.tick_right(); sc.set_yticks(AMP_T); sc.set_yticklabels(['%.2f'%v for v in AMP_T],fontsize=10)
sc.tick_params(length=3.5,width=1)
for s in sc.spines.values(): s.set_linewidth(1)
ftext(3225,490,'Amplitude Scale / TECU',fontsize=10.9,rotation=90)

# (d) map
d = axpx(206,913,1786,2098)
d.set_xlim(206,1786); d.set_ylim(2098,913); d.set_xticks([]); d.set_yticks([])
d.set_facecolor(SEA)
for s in d.spines.values(): s.set_linewidth(1.3)
z9 = lambda pts: list(zip(*conv(pts,760,.657,1700,.333)))
land = [(432,915),(1786,915),(1786,1500)]+EAST_COAST
d.add_patch(Polygon(land+WEST_COAST,closed=True,fc=LAND,ec='none',zorder=1))
d.add_patch(Polygon(z9(COAST_Z9B+COAST_Z9),closed=True,fc=LAND,ec='none',zorder=1))
d.add_patch(Polygon(z9(CUBA_Z9),closed=True,fc=LAND,ec='none',zorder=1))
d.add_patch(Polygon(z9(HISP_Z9),closed=True,fc=LAND,ec='none',zorder=1))
# graticule
ax0,ay0 = 1045,400
rr = np.array(PARALLELS,float)
th = np.deg2rad(np.arange(-70,70.5,.5))
for R in rr:
    d.plot(ax0+R*np.sin(th),ay0+R*np.cos(th),color='#8d979e',lw=.35,zorder=2)
for lon in MERIDIANS:
    t = np.deg2rad(.6*(lon+100))
    q = np.array([300,2300.])
    d.plot(ax0+q*np.sin(t),ay0+q*np.cos(t),color='#8d979e',lw=.35,zorder=2)
# eclipse contours
for T in (TERM_0,TERM_25,TERM_50):
    smooth(d,T,ec='white',lw=.35,zorder=2)
xs,ys = zip(*TERM_0B); d.plot(xs,ys,color='white',lw=.35,zorder=2)
for cx,cy,w,h in TERM_RINGS:
    d.add_patch(Ellipse((cx,cy),w,h,fc='none',ec='white',lw=.35,zorder=2))
smooth(d,PATH,ec='white',lw=.4,zorder=2)
xs,ys = zip(*TRACK); d.plot(xs,ys,color='#c8d0d0',lw=.7,ls=(0,(1,3)),zorder=2)
# receivers
def wedge_map(x,y):
    u=(np.asarray(x,float)-40)/1495; v=(np.asarray(y,float)-35)/1495
    tl,tr,br,bl = (789.5,1366),(965,1396),(960,1689),(709,1651)
    X=(1-v)*((1-u)*tl[0]+u*tr[0])+v*((1-u)*bl[0]+u*br[0])
    Y=(1-v)*((1-u)*tl[1]+u*tr[1])+v*((1-u)*bl[1]+u*br[1])
    return X,Y
ipp_x = np.array([p[0] for p in IPP],float); ipp_y = np.array([p[1] for p in IPP],float)
dtec = {k:decode(''.join(p[2][i] for p in IPP)) for i,k in enumerate('defgh')}
wx,wy = wedge_map(ipp_x,ipp_y)
MS = 5.6
d.scatter(wx,wy,c=dtec['d'],cmap=jet,norm=norm,s=MS,linewidths=0,zorder=3)
for pts,f in [(D_EAST+D_EAST2,(760,.357,1360,.333)),(D_NORTH,(205,.51,910,.357)),(D_SOUTH,(760,.657,1700,.333)),(D_HAWAII,(180,1/.968,900,1/1.265))]:
    X,Y = conv(pts,*f)
    d.scatter(X,Y,c=decode(''.join(p[2] for p in pts)),cmap=jet,norm=norm,s=MS,linewidths=0,zorder=3)
# wedge and connectors
smooth(d,[WEDGE_TOP[0],WEDGE_TOP[1],WEDGE_TOP[1],WEDGE_TOP[2]],ec=TEAL,lw=1.6,zorder=4)
smooth(d,[WEDGE_BOTTOM[0],WEDGE_BOTTOM[1],WEDGE_BOTTOM[1],WEDGE_BOTTOM[2]],ec=TEAL,lw=1.6,zorder=4)
for seg in WEDGE_SIDES:
    xs,ys = zip(*seg); d.plot(xs,ys,color=TEAL,lw=1.6,zorder=4)
d.plot(*zip(*NOON),color='#b300b3',lw=1.7,zorder=5)
for s,x,y in PCT:
    d.text(x,y,s,color='white',fontsize=10,fontweight='bold',ha='center',va='center',zorder=6)
d.text(577,975,'(d) TIDs map @ UT19:05',fontsize=12,fontweight='bold',ha='center',va='center',bbox=BOX,zorder=7)
ftext(939,2087,'Local noon',color='#b300b3',fontsize=10,fontweight='bold',
      bbox=dict(facecolor='white',alpha=.5,edgecolor='lightslategray',linewidth=1.5,boxstyle='square,pad=0.38'),zorder=20)
for s,y in LAT_LABELS: ftext(190,y,s,fontsize=10,ha='right')
for s,x in LON_LABELS: ftext(x,2135,s,fontsize=10)

# inset + (e)-(h)
def panel(l,t,r,b,vals,red,frame,label,lx,ly):
    a = axpx(l,t,r,b,zorder=8)
    a.set_xlim(40,1535); a.set_ylim(1530,35); a.set_xticks([]); a.set_yticks([])
    a.set_facecolor(LAND)
    a.add_patch(Polygon(OCEAN_PANEL,closed=True,fc=SEA,ec='none',zorder=1))
    a.add_patch(Polygon(OCEAN_PANEL2,closed=True,fc=SEA,ec='none',zorder=1))
    a.scatter(ipp_x,ipp_y,c=vals,cmap=jet,norm=norm,s=MS,linewidths=0,zorder=3)
    a.plot([40,1535],[35,1530],color='k',lw=.8,ls=(0,(3,2)),zorder=4)
    r_ = np.array(red,float); x0,x1,y0,y1 = frame
    a.plot(40+(r_[:,0]-x0)/(x1-x0)*1495,35+(r_[:,1]-y0)/(y1-y0)*1495,color='red',lw=1.4,zorder=7,solid_joinstyle='miter')
    for s in a.spines.values(): s.set_color(TEAL); s.set_linewidth(1.3)
    if label:
        a.text(lx,ly,label,fontsize=12,fontweight='bold',ha='center',va='center',bbox=BOX,zorder=6)
    return a
panel(1196,914,1787,1505,dtec['d'],RED_D,(40,1535,35,1530),None,0,0)
panel(1809,914,2402,1506,dtec['e'],RED_E,(20,652,35,1530),'(e) UT 19:10',560,170)
panel(2402,914,2995,1506,dtec['f'],RED_F,(655,1287,35,1530),'(f) UT 19:15',560,170)
panel(1809,1506,2402,2098,dtec['g'],RED_G,(20,652,45,1490),'(g) UT 19:20',560,170)
panel(2402,1506,2995,2098,dtec['h'],RED_H,(655,1287,45,1490),'(h) UT 19:25',560,170)

# colourbar
cax = axpx(3026,914,3066,2100)
cb = fig.colorbar(ScalarMappable(norm=norm,cmap=jet),cax=cax)
cb.set_ticks(CB_TICKS); cb.set_ticklabels(['%.2f'%v for v in CB_TICKS],fontsize=10)
cb.ax.tick_params(length=3.5,width=1); cb.outline.set_linewidth(1)
ftext(3225,1507,'Detrended VTEC / TECU',fontsize=11.8,rotation=90)

fig.savefig('out.png',dpi=300,facecolor='white')
